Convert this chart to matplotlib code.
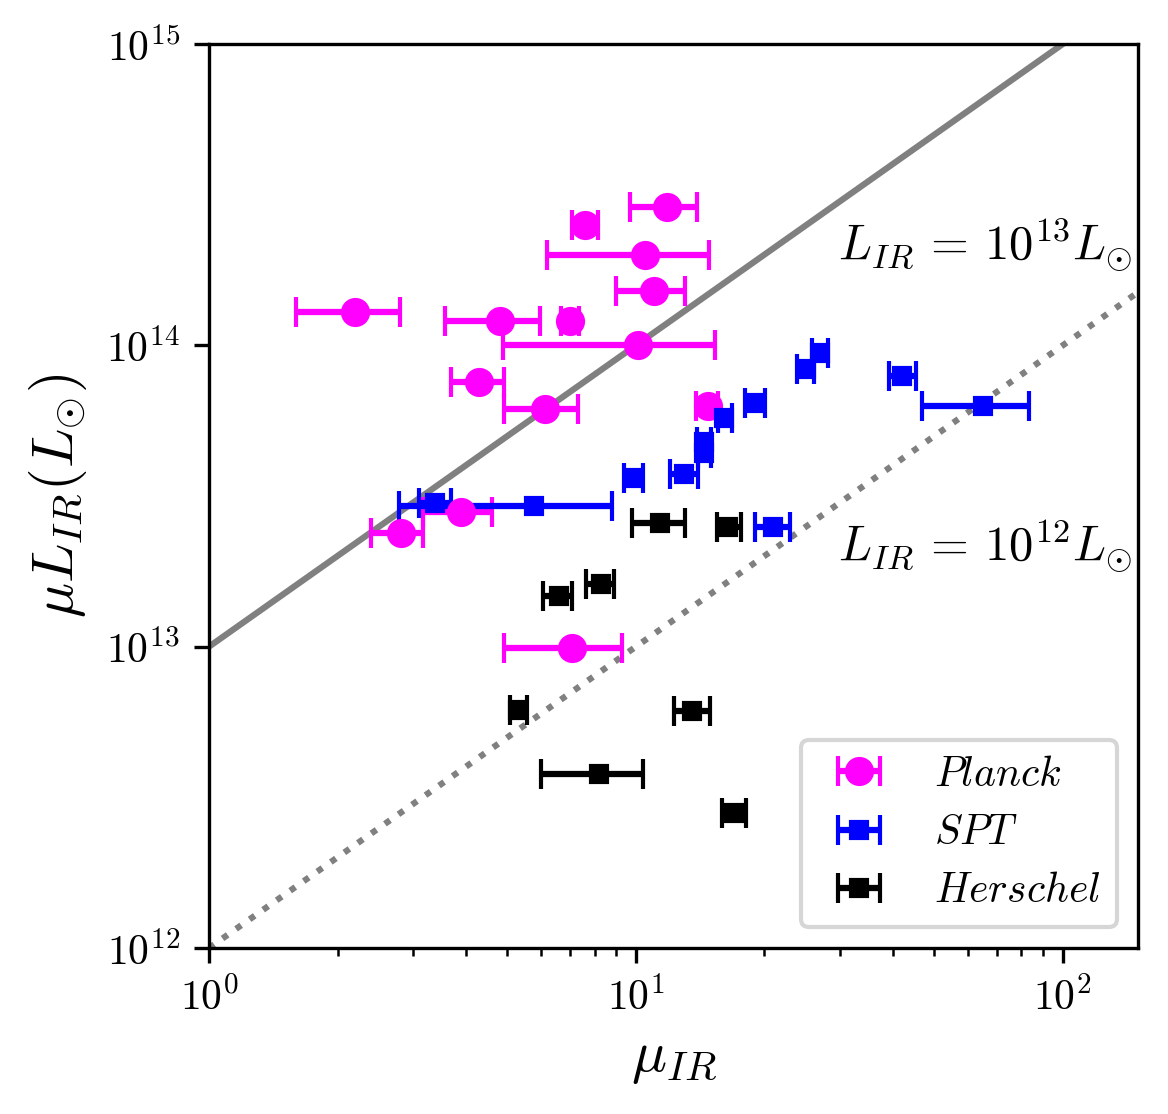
import numpy as np
import matplotlib
matplotlib.use("Agg")
import matplotlib.pyplot as plt
from matplotlib.ticker import NullLocator

plt.rcParams['mathtext.fontset'] = 'cm'
plt.rcParams['font.family'] = 'serif'
plt.rcParams['font.serif'] = ['cmr10']
plt.rcParams['axes.formatter.use_mathtext'] = True

# Planck: mu, mu low, mu high, mu*L_IR
planck_mu = [11.85, 7.59, 10.53, 11.04, 2.20, 4.80, 7.00, 10.14, 4.30, 6.11, 14.72, 3.90, 2.81, 7.09]
planck_lo = [9.67, 7.08, 6.20, 8.97, 1.60, 3.58, 6.67, 4.89, 3.69, 4.90, 13.86, 3.18, 2.39, 4.91]
planck_hi = [13.93, 8.13, 14.81, 13.05, 2.80, 5.97, 7.35, 15.31, 4.92, 7.32, 15.61, 4.61, 3.18, 9.27]
planck_L = [2.87e14, 2.51e14, 2.0e14, 1.51e14, 1.29e14, 1.20e14, 1.20e14, 1.0e14, 7.57e13, 6.15e13,
            6.29e13, 2.79e13, 2.38e13, 9.9e12]

# SPT
spt_mu = [27.0, 25.0, 41.9, 64.9, 18.9, 16.1, 14.4, 14.45, 12.98, 9.86, 5.77, 3.38, 20.9]
spt_lo = [25.8, 23.9, 39.1, 46.7, 18.0, 15.6, 13.9, 14.0, 12.0, 9.36, 2.79, 3.10, 19.0]
spt_hi = [28.2, 26.1, 45.2, 83.2, 20.1, 16.8, 15.0, 15.0, 14.0, 10.4, 8.80, 3.68, 22.9]
spt_L = [9.41e13, 8.32e13, 7.93e13, 6.29e13, 6.45e13, 5.75e13, 4.79e13, 4.38e13, 3.73e13, 3.64e13,
         2.94e13, 3.0e13, 2.50e13]

# Herschel
her_mu = [11.4, 16.4, 6.61, 8.27, 5.28, 13.55, 8.19, 16.96]
her_lo = [9.79, 15.5, 6.07, 7.66, 5.07, 12.26, 5.99, 15.9]
her_hi = [13.06, 17.6, 7.08, 8.90, 5.55, 14.93, 10.4, 18.1]
her_L = [2.57e13, 2.50e13, 1.47e13, 1.61e13, 6.16e12, 6.13e12, 3.78e12, 2.80e12]

x_line = np.array([1.0, 150.0])


def xerr(mu, lo, hi):
    mu = np.array(mu)
    return [mu - np.array(lo), np.array(hi) - mu]


fig = plt.figure(figsize=(1168 / 300, 1114 / 300), dpi=300)
ax = fig.add_axes([209 / 1168, 1 - 948 / 1114, (1138 - 209) / 1168, (948 - 44) / 1114])

ax.plot(x_line, 1e13 * x_line, '-', color='gray', lw=1.5)
ax.plot(x_line, 1e12 * x_line, ':', color='gray', lw=1.5)

ax.errorbar(planck_mu, planck_L, xerr=xerr(planck_mu, planck_lo, planck_hi), fmt='o',
            color='magenta', ms=6, capsize=3.5, label='$Planck$')
ax.errorbar(spt_mu, spt_L, xerr=xerr(spt_mu, spt_lo, spt_hi), fmt='s',
            color='blue', ms=4, capsize=3.5, label='$SPT$')
ax.errorbar(her_mu, her_L, xerr=xerr(her_mu, her_lo, her_hi), fmt='s',
            color='black', ms=4, capsize=3.5, label='$Herschel$')

ax.text(29.7, 2.15e14, r'$L_{IR}\,=\,10^{13}L_{\odot}$', fontsize=11.7, ha='left', va='center')
ax.text(29.7, 2.17e13, r'$L_{IR}\,=\,10^{12}L_{\odot}$', fontsize=11.7, ha='left', va='center')

ax.set_xscale('log')
ax.set_yscale('log')
ax.set_xlim(1, 150)
ax.set_ylim(1e12, 1e15)
ax.yaxis.set_minor_locator(NullLocator())
ax.tick_params(labelsize=10)
ax.set_xlabel(r'$\mu_{IR}$', fontsize=14)
ax.set_ylabel(r'$\mu L_{IR}(L_{\odot})$', fontsize=14)
ax.legend(loc='lower right', fontsize=10)

plt.savefig("out.png", dpi=300)
